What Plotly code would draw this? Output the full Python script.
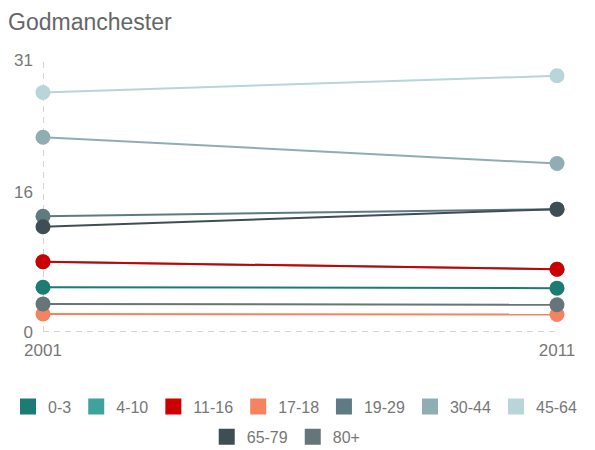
import plotly.graph_objects as go

years = [2001, 2011]
groups = ["0-3", "4-10", "11-16", "17-18", "19-29", "30-44", "45-64", "65-79", "80+"]
values = {
    "0-3":   [5.1, 5.0],
    "4-10":  [8.0, 7.15],
    "11-16": [8.0, 7.15],
    "17-18": [2.05, 2.0],
    "19-29": [13.2, 14.0],
    "30-44": [22.2, 19.2],
    "45-64": [27.3, 29.2],
    "65-79": [12.0, 14.0],
    "80+":   [3.2, 3.1],
}
colors = {
    "0-3": "#1c7b72",
    "4-10": "#3fa39b",
    "11-16": "#cc0000",
    "17-18": "#f4845f",
    "19-29": "#5e7b83",
    "30-44": "#90adb3",
    "45-64": "#b8d5d9",
    "65-79": "#3e4e54",
    "80+": "#65757a",
}
ytick_vals = [0, 16, 31]
title = "Godmanchester"

# legend rows (which legend box each group's entry lives in)
legend_of = {"0-3": "legend", "4-10": "legend", "11-16": "legend", "17-18": "legend",
             "19-29": "legend3", "30-44": "legend3", "45-64": "legend3",
             "65-79": "legend2", "80+": "legend2"}

fig = go.Figure()
for g in groups:
    fig.add_trace(go.Scatter(
        x=years, y=values[g], mode="lines+markers", name=g,
        line=dict(color=colors[g], width=2),
        marker=dict(color=colors[g], size=15),
        showlegend=False, cliponaxis=False,
    ))
for i, g in enumerate(groups):
    fig.add_trace(go.Scatter(
        x=[None], y=[None], mode="markers", name=g,
        marker=dict(color=colors[g], size=17, symbol="square"),
        showlegend=True, legendrank=i, legend=legend_of[g],
    ))

dash_style = dict(color="#c8c8c8", width=1.5, dash="6px,5px")
fig.add_shape(type="line", xref="x", yref="paper", x0=years[0], x1=years[0], y0=0, y1=1,
              line=dash_style, layer="below")
fig.add_shape(type="line", xref="paper", yref="y", x0=0, x1=1, y0=0, y1=0,
              line=dash_style, layer="below")

legend_common = dict(orientation="h", xref="container", xanchor="left",
                     yref="container", yanchor="top",
                     font=dict(size=16, color="#777777"), itemwidth=30)

fig.update_layout(
    width=595, height=450,
    paper_bgcolor="white", plot_bgcolor="white",
    margin=dict(l=35, r=46, t=52, b=126),
    font=dict(family="Liberation Sans, Arial, sans-serif", color="#666666"),
    title=dict(text=title, xref="container", x=0.0, xanchor="left",
               yref="container", y=0.987, yanchor="top", pad=dict(t=0, l=0),
               font=dict(size=23, color="#666666")),
    xaxis=dict(range=[years[0], years[-1]], tickvals=years, ticktext=[str(y) for y in years],
               showgrid=False, zeroline=False, showline=False, ticks="", automargin=False,
               tickfont=dict(size=17, color="#777777"), ticklabelstandoff=6),
    yaxis=dict(range=[0, 31], tickvals=ytick_vals, showgrid=False, zeroline=False,
               showline=False, ticks="", automargin=False,
               tickfont=dict(size=17, color="#777777"), ticklabelstandoff=9),
    legend=dict(x=-0.02, y=0.152, **legend_common),
    legend3=dict(x=0.531, y=0.152, **legend_common),
    legend2=dict(x=0.334, y=0.085, **legend_common),
)

fig.write_html("out.html")
